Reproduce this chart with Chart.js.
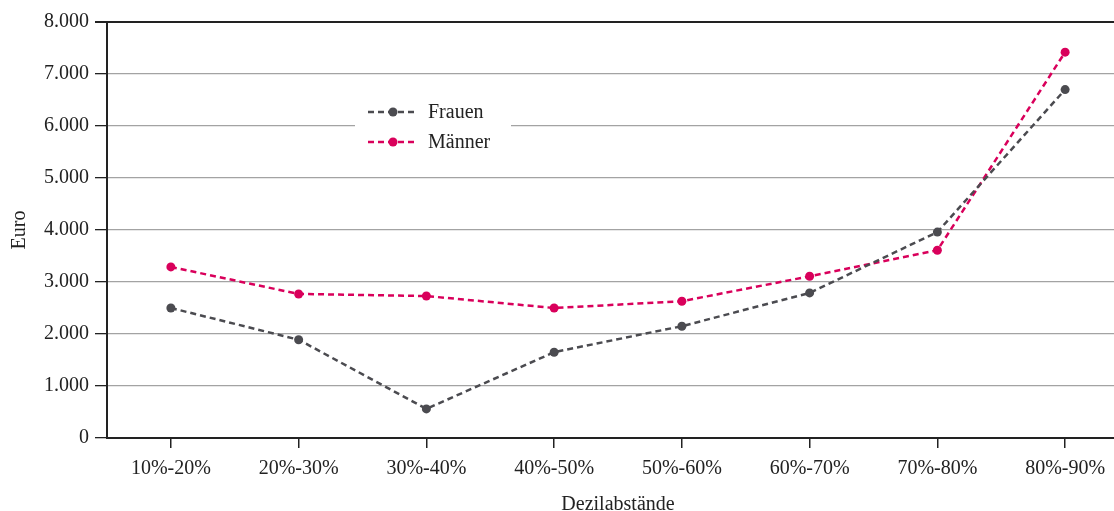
<!DOCTYPE html>
<html>
<head>
<meta charset="utf-8">
<script src="https://cdn.jsdelivr.net/npm/chart.js@4.4.0/dist/chart.umd.min.js"></script>
<style>
  html, body { margin: 0; padding: 0; background: #fff; overflow: hidden; }
  #wrap { width: 1114px; height: 511px; overflow: hidden; }
</style>
</head>
<body>
<div id="wrap"><canvas id="c" width="1140" height="511"></canvas></div>
<script>
// categories and values (Euro)
var categories = ['10%-20%', '20%-30%', '30%-40%', '40%-50%', '50%-60%', '60%-70%', '70%-80%', '80%-90%'];
var frauen = [2500, 1890, 560, 1650, 2150, 2790, 3960, 6700];
var maenner = [3290, 2770, 2730, 2500, 2630, 3110, 3610, 7420];
var yTicks = [0, 1000, 2000, 3000, 4000, 5000, 6000, 7000, 8000];

var FONT = '"Liberation Serif", "Times New Roman", serif';
var FSIZE = 20;
var GREY = '#4b4b50';
var PINK = '#d9005b';
var DARK = '#222';

function fmt(v) {
    if (v === 0) return '0';
    return Math.floor(v / 1000) + '.' + ('000' + (v % 1000)).slice(-3);
}

// legend drawn inside the plot on a white box
var insideLegend = {
    id: 'insideLegend',
    afterDatasetsDraw: function (chart) {
        var ctx = chart.ctx;
        var area = chart.chartArea;
        var x0 = area.left + 248, y0 = area.top + 78;
        ctx.save();
        ctx.fillStyle = '#fff';
        ctx.fillRect(x0, y0, 156, 56);
        chart.data.datasets.forEach(function (ds, i) {
            var y = y0 + 12 + i * 30;
            ctx.strokeStyle = ds.borderColor;
            ctx.lineWidth = 2.5;
            ctx.setLineDash([6, 4]);
            ctx.beginPath();
            ctx.moveTo(x0 + 13, y);
            ctx.lineTo(x0 + 63, y);
            ctx.stroke();
            ctx.setLineDash([]);
            ctx.fillStyle = ds.borderColor;
            ctx.beginPath();
            ctx.arc(x0 + 38, y, 4.5, 0, Math.PI * 2);
            ctx.fill();
            ctx.fillStyle = DARK;
            ctx.font = FSIZE + 'px ' + FONT;
            ctx.textBaseline = 'middle';
            ctx.fillText(ds.label, x0 + 73, y + 1);
        });
        ctx.restore();
    }
};

var ctx = document.getElementById('c').getContext('2d');
var chart = new Chart(ctx, {
    type: 'line',
    data: {
        labels: categories,
        datasets: [
            { label: 'Frauen', data: frauen, borderColor: GREY, backgroundColor: GREY, borderDash: [6, 4], borderWidth: 2.5, pointRadius: 4.5, pointBorderWidth: 0, tension: 0 },
            { label: 'Männer', data: maenner, borderColor: PINK, backgroundColor: PINK, borderDash: [6, 4], borderWidth: 2.5, pointRadius: 4.5, pointBorderWidth: 0, tension: 0 }
        ]
    },
    options: {
        responsive: false,
        animation: false,
        layout: { padding: { top: 22, right: 11, left: 0, bottom: 0 } },
        plugins: { legend: { display: false }, tooltip: { enabled: false } },
        scales: {
            x: {
                offset: true,
                grid: { offset: false, drawOnChartArea: false, tickLength: 10, tickColor: DARK, lineWidth: 1.5 },
                border: { color: DARK, width: 2 },
                ticks: { color: DARK, font: { family: FONT, size: FSIZE }, padding: 9, maxRotation: 0 },
                title: { display: true, text: 'Dezilabstände', color: DARK, font: { family: FONT, size: FSIZE }, padding: { top: 0, bottom: -6 } },
                afterFit: function (s) { s.height = 73; }
            },
            y: {
                min: 0, max: 8000,
                afterBuildTicks: function (s) { s.ticks = yTicks.map(function (v) { return { value: v }; }); },
                grid: {
                    color: function (c) { return c.tick && c.tick.value === 8000 ? DARK : '#a3a3a3'; },
                    lineWidth: function (c) { return c.tick && c.tick.value === 8000 ? 2 : 1.3; },
                    tickColor: DARK, tickLength: 12
                },
                border: { color: DARK, width: 2 },
                ticks: { color: DARK, font: { family: FONT, size: FSIZE }, padding: 6, callback: function (v) { return fmt(v); } },
                title: { display: true, text: 'Euro', color: DARK, font: { family: FONT, size: FSIZE }, padding: { top: 8, bottom: 0 } },
                afterFit: function (s) { s.width = 107; }
            }
        }
    },
    plugins: [insideLegend]
});
</script>
</body>
</html>
